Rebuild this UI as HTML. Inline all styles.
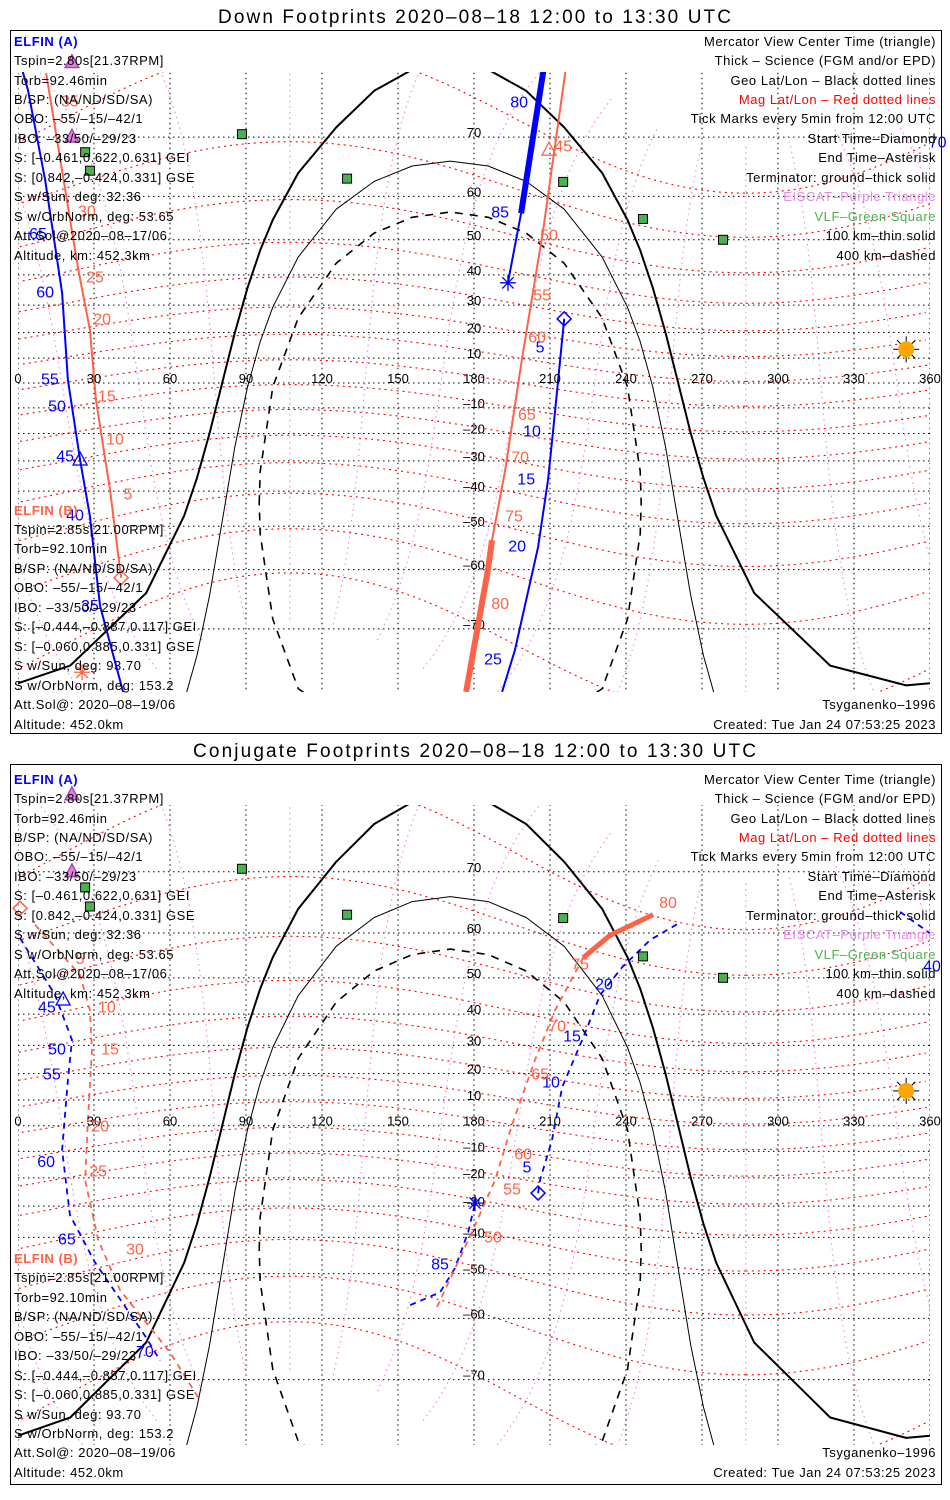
<!DOCTYPE html>
<html><head><meta charset="utf-8">
<style>
html,body{margin:0;padding:0;background:#fff;overflow:hidden;width:950px;height:1500px;}
svg{display:block;}
.t{font-family:"Liberation Sans",sans-serif;font-size:13px;letter-spacing:0.55px;fill:#000;}
.r{text-anchor:end;}
.ttl{font-family:"Liberation Sans",sans-serif;font-size:19px;fill:#000;}
</style></head>
<body>
<svg id="chart" width="950" height="1500" viewBox="0 0 950 1500" xmlns="http://www.w3.org/2000/svg">
<defs>
<clipPath id="clip1"><rect x="18" y="72" width="912" height="620"/></clipPath>
<clipPath id="clip2"><rect x="18" y="805" width="912" height="640"/></clipPath>
<clipPath id="clipAll"><rect x="0" y="0" width="950" height="1500"/></clipPath>
</defs>
<rect x="0" y="0" width="950" height="1500" fill="#fff"/>

<text class="ttl" x="218" y="23" textLength="513">Down Footprints 2020–08–18 12:00 to 13:30 UTC</text>
<rect x="10.5" y="30.5" width="931" height="703" fill="none" stroke="#000" stroke-width="1"/>
<g id="map1" clip-path="url(#clip1)"></g>
<g id="over1" clip-path="url(#clipAll)"></g>

<text class="ttl" x="193" y="757" textLength="563">Conjugate Footprints 2020–08–18 12:00 to 13:30 UTC</text>
<rect x="10.5" y="764.5" width="931" height="720" fill="none" stroke="#000" stroke-width="1"/>
<g id="map2" clip-path="url(#clip2)"></g>
<g id="over2" clip-path="url(#clipAll)"></g>

<!-- Top panel text -->
<g>
<text class="t" x="14" y="46" style="fill:#0000ff;font-weight:bold">ELFIN (A)</text>
<text class="t" x="14" y="65">Tspin=2.80s[21.37RPM]</text>
<text class="t" x="14" y="85">Torb=92.46min</text>
<text class="t" x="14" y="104">B/SP: (NA/ND/SD/SA)</text>
<text class="t" x="14" y="123">OBO: –55/–15/–42/1</text>
<text class="t" x="14" y="143">IBO: –33/50/–29/23</text>
<text class="t" x="14" y="162">S: [–0.461,0.622,0.631] GEI</text>
<text class="t" x="14" y="182">S: [0.842,–0.424,0.331] GSE</text>
<text class="t" x="14" y="201">S w/Sun, deg: 32.36</text>
<text class="t" x="14" y="221">S w/OrbNorm, deg: 53.65</text>
<text class="t" x="14" y="240">Att.Sol@2020–08–17/06</text>
<text class="t" x="14" y="260">Altitude, km: 452.3km</text>
</g>
<g>
<text class="t" x="14" y="515" style="fill:#ff6347;font-weight:bold">ELFIN (B)</text>
<text class="t" x="14" y="534">Tspin=2.85s[21.00RPM]</text>
<text class="t" x="14" y="553">Torb=92.10min</text>
<text class="t" x="14" y="573">B/SP: (NA/ND/SD/SA)</text>
<text class="t" x="14" y="592">OBO: –55/–15/–42/1</text>
<text class="t" x="14" y="612">IBO: –33/50/–29/23</text>
<text class="t" x="14" y="631">S: [–0.444,–0.887,0.117] GEI</text>
<text class="t" x="14" y="651">S: [–0.060,0.885,0.331] GSE</text>
<text class="t" x="14" y="670">S w/Sun, deg: 93.70</text>
<text class="t" x="14" y="690">S w/OrbNorm, deg: 153.2</text>
<text class="t" x="14" y="709">Att.Sol@: 2020–08–19/06</text>
<text class="t" x="14" y="729">Altitude: 452.0km</text>
</g>
<g>
<text class="t r" x="936" y="46">Mercator View Center Time (triangle)</text>
<text class="t r" x="936" y="65">Thick – Science (FGM and/or EPD)</text>
<text class="t r" x="936" y="85">Geo Lat/Lon – Black dotted lines</text>
<text class="t r" x="936" y="104" style="fill:#ff0000">Mag Lat/Lon – Red dotted lines</text>
<text class="t r" x="936" y="123">Tick Marks every 5min from 12:00 UTC</text>
<text class="t r" x="936" y="143">Start Time–Diamond</text>
<text class="t r" x="936" y="162">End Time–Asterisk</text>
<text class="t r" x="936" y="182">Terminator: ground–thick solid</text>
<text class="t r" x="936" y="201" style="fill:#e58ae5">EISCAT–Purple Triangle</text>
<text class="t r" x="936" y="221" style="fill:#4caf50">VLF–Green Square</text>
<text class="t r" x="936" y="240">100 km–thin solid</text>
<text class="t r" x="936" y="260">400 km–dashed</text>
<text class="t r" x="936" y="709">Tsyganenko–1996</text>
<text class="t r" x="936" y="729">Created: Tue Jan 24 07:53:25 2023</text>
</g>

<!-- Bottom panel text -->
<g>
<text class="t" x="14" y="784" style="fill:#0000ff;font-weight:bold">ELFIN (A)</text>
<text class="t" x="14" y="803">Tspin=2.80s[21.37RPM]</text>
<text class="t" x="14" y="823">Torb=92.46min</text>
<text class="t" x="14" y="842">B/SP: (NA/ND/SD/SA)</text>
<text class="t" x="14" y="861">OBO: –55/–15/–42/1</text>
<text class="t" x="14" y="881">IBO: –33/50/–29/23</text>
<text class="t" x="14" y="900">S: [–0.461,0.622,0.631] GEI</text>
<text class="t" x="14" y="920">S: [0.842,–0.424,0.331] GSE</text>
<text class="t" x="14" y="939">S w/Sun, deg: 32.36</text>
<text class="t" x="14" y="959">S w/OrbNorm, deg: 53.65</text>
<text class="t" x="14" y="978">Att.Sol@2020–08–17/06</text>
<text class="t" x="14" y="998">Altitude, km: 452.3km</text>
</g>
<g>
<text class="t" x="14" y="1263" style="fill:#ff6347;font-weight:bold">ELFIN (B)</text>
<text class="t" x="14" y="1282">Tspin=2.85s[21.00RPM]</text>
<text class="t" x="14" y="1302">Torb=92.10min</text>
<text class="t" x="14" y="1321">B/SP: (NA/ND/SD/SA)</text>
<text class="t" x="14" y="1341">OBO: –55/–15/–42/1</text>
<text class="t" x="14" y="1360">IBO: –33/50/–29/23</text>
<text class="t" x="14" y="1380">S: [–0.444,–0.887,0.117] GEI</text>
<text class="t" x="14" y="1399">S: [–0.060,0.885,0.331] GSE</text>
<text class="t" x="14" y="1419">S w/Sun, deg: 93.70</text>
<text class="t" x="14" y="1438">S w/OrbNorm, deg: 153.2</text>
<text class="t" x="14" y="1457">Att.Sol@: 2020–08–19/06</text>
<text class="t" x="14" y="1477">Altitude: 452.0km</text>
</g>
<g>
<text class="t r" x="936" y="784">Mercator View Center Time (triangle)</text>
<text class="t r" x="936" y="803">Thick – Science (FGM and/or EPD)</text>
<text class="t r" x="936" y="823">Geo Lat/Lon – Black dotted lines</text>
<text class="t r" x="936" y="842" style="fill:#ff0000">Mag Lat/Lon – Red dotted lines</text>
<text class="t r" x="936" y="861">Tick Marks every 5min from 12:00 UTC</text>
<text class="t r" x="936" y="881">Start Time–Diamond</text>
<text class="t r" x="936" y="900">End Time–Asterisk</text>
<text class="t r" x="936" y="920">Terminator: ground–thick solid</text>
<text class="t r" x="936" y="939" style="fill:#e58ae5">EISCAT–Purple Triangle</text>
<text class="t r" x="936" y="959" style="fill:#4caf50">VLF–Green Square</text>
<text class="t r" x="936" y="978">100 km–thin solid</text>
<text class="t r" x="936" y="998">400 km–dashed</text>
<text class="t r" x="936" y="1457">Tsyganenko–1996</text>
<text class="t r" x="936" y="1477">Created: Tue Jan 24 07:53:25 2023</text>
</g>
</svg>

<script>
// ---------- axis ticks ----------
const lonTicks = [0,30,60,90,120,150,180,210,240,270,300,330,360];
const latTicks = [-70,-60,-50,-40,-30,-20,-10,0,10,20,30,40,50,60,70];
const latLabelLon = 180;

// ---------- terminators (lon / lat) ----------
const termLon = [0,20.6,50.6,65.6,70.6,75.6,80.6,85.6,90.6,95.6,100.6,110.6,125.6,140.6,155.6,170.6,185.6,200.6,215.6,230.6,240.6,245.6,250.6,255.6,260.6,265.6,270.6,275.6,290.6,320.6,350.6,360];
const groundLat = [-76.3,-74.5,-64.4,-47.2,-35.9,-20.0,0,20.0,35.9,47.2,54.9,64.4,71.3,75.5,77.5,78.0,77.5,75.5,71.3,64.4,54.9,47.2,35.9,20.0,0,-20.0,-35.9,-47.2,-64.4,-74.5,-76.5,-76.3];
const km100Lat = [-86.6,-86.1,-83.3,-77.9,-73.4,-64.9,-48.7,-24.9,-1.6,16.5,29.3,45.3,57.3,62.9,65.6,66.4,65.6,62.9,57.3,45.3,29.3,16.5,-1.6,-24.9,-48.7,-64.9,-73.4,-77.9,-83.3,-86.1,-86.6,-86.6];
const km400Lon = [95.2,95.6,100.6,110.6,125.6,140.6,155.6,170.6,185.6,200.6,215.6,230.6,240.6,245.6,246.0,245.6,240.6,230.6,215.6,200.6,185.6,170.6,155.6,140.6,125.6,110.6,100.6,95.6,95.2];
const km400Lat = [-43.6,-33.6,-1.6,25.4,43.5,51.7,55.5,56.7,55.5,51.7,43.5,25.4,-1.6,-33.6,-43.6,-52.0,-68.6,-76.8,-80.9,-82.7,-83.5,-83.7,-83.5,-82.7,-80.9,-76.8,-68.6,-52.0,-43.6];

// ---------- sites ----------
const vlfLon = [88.4,26.5,28.4,129.9,215.2,246.7,278.3];
const vlfLat = [70.4,67.8,64.8,63.4,62.8,55.1,50.0];
const eiscatLon = [21.3,21.3];
const eiscatLat = [78.1,70.0];
const sunLon = [350.6];
const sunLat = [13.5];
const magPoleLat = 80.65;
const magPoleLon = 287.3;

// ---------- Down footprints: tracks ----------
const downA1Lon = [215.6,214.4,211.2,209.2,205.3,196.2,191.1];
const downA1Lat = [25.1,13.2,-19.4,-36.5,-55.1,-72.7,-77.1];
const downA2Lon = [41.5,32.4,28.4,24.5,19.7,17.4,10.7,3.9,-1.6];
const downA2Lat = [-77.1,-66.6,-47.3,-29.7,1.2,34.2,63.2,75.6,79.8];
const downA3Lon = [208.5,207.3,198.6,193.4];
const downA3Lat = [80.5,77.3,56.4,37.5];
const downA3ThickLon = [208.5,207.3,198.6];
const downA3ThickLat = [80.5,77.3,56.4];
const downB1Lon = [11.1,23.7,28.4,30.8,36.3,40.7];
const downB1Lat = [77.2,42.1,21.0,-6.9,-39.6,-61.6];
const downB2Lon = [218,216,207.3,199,192.3,187.1,185.5,176.9];
const downB2Lat = [79.8,77.2,52.5,10,-33.2,-53.5,-60.1,-77.1];
const downB2ThickLon = [187.1,185.5,176.9];
const downB2ThickLat = [-53.5,-60.1,-77.1];
const downALabText = ["5","10","15","20","25","35","40","45","50","55","60","65","70","80","85"];
const downALabLon = [206.1,202.9,200.6,197.0,187.5,28.4,22.5,18.6,15.4,12.6,10.7,7.9,363,197.8,190.3];
const downALabLat = [14.0,-19.4,-36.5,-55.1,-73.9,-66.7,-47.3,-28.6,-9.7,1.2,34.2,51.3,69.2,74.2,56.5];
const downBLabText = ["5","10","15","20","25","30","35","45","50","55","60","65","70","75","80"];
const downBLabLon = [43.4,38.3,35.1,33.2,30.4,27.2,20.5,215.2,209.6,206.9,204.9,200.9,198.2,195.8,190.3];
const downBLabLat = [-41.2,-22.4,-5.7,24.7,39.1,56.7,74.3,68.6,51.0,33.2,17.9,-13.1,-29.0,-47.6,-66.3];
const downAStart = [215.6,25.1], downACenter = [24.5,-29.7], downAEnd = [193.4,37.5];
const downBStart = [40.7,-61.6], downBCenter = [209.6,68.1], downBEnd = [25.3,-75.2];

// ---------- Conjugate footprints: tracks ----------
const conjA1Lon = [205.3,206.1,210.8,214.8,222.7,229.8,238.5,249.5,261.3];
const conjA1Lat = [-25.5,-20.7,-5.6,15.0,31.8,45.5,52.6,58.6,62.0];
const conjA4Lon = [348.2,361];
const conjA4Lat = [63.9,59.6];
const conjA2Lon = [0.8,14.6,21.3,19.7,17.4,20.5,30.4,50.1,56.1];
const conjA2Lat = [59.0,45.5,31.8,17.6,-9.5,-33.0,-47.1,-63.2,-67.3];
const conjA3Lon = [154.8,166.6,172.5,177.7,180.4];
const conjA3Lat = [-57.3,-54.5,-48.6,-38.4,-29.0];
const conjB1Lon = [6.7,24.5,28.4,29.2,27.6,26.5,31.6,40.3,60.0,71.8];
const conjB1Lat = [61.6,50.7,41.2,28.4,2.2,-20.8,-40.7,-54.0,-66.0,-72.6];
const conjB2Lon = [165.4,177.7,188.3,195.0,204.1,212.0,223.1,233.8,250.7];
const conjB2Lat = [-57.7,-40.9,-20.9,0.3,24.9,41.2,54.8,59.6,63.4];
const conjB2ThickLon = [223.1,233.8,250.7];
const conjB2ThickLat = [54.8,59.6,63.4];
const conjALabText = ["5","10","15","20","40","45","50","55","60","65","70","85"];
const conjALabLon = [200.9,210.4,218.7,231.3,360.8,11.4,15.4,13.4,11.1,19.3,50.1,166.6];
const conjALabLat = [-16.3,16.5,32.8,48.2,52.6,41.8,28.4,19.4,-14.3,-40.8,-66.0,-47.8];
const conjBLabText = ["5","10","15","20","25","30","50","55","60","65","70","75","80"];
const conjBLabLon = [24.5,35.1,36.3,32.4,31.6,46.2,187.5,195.0,199.4,206.1,212.8,221.9,256.6];
const conjBLabLat = [54.4,41.8,28.4,-0.5,-17.8,-43.7,-40.2,-24.4,-11.4,19.4,36.0,53.1,65.3];
const conjAStart = [205.3,-25.5], conjACenter = [17.8,44.1], conjAEnd = [180.4,-29.0];
const conjBStart = [0.8,64.5];

// ---------- rendering ----------
const NS = "http://www.w3.org/2000/svg";
const BLUE = "#0000ff", ORANGE = "#ff6347";
const panels = [
  {map: document.getElementById('map1'), over: document.getElementById('over1'), y0: 383, R: 141.7},
  {map: document.getElementById('map2'), over: document.getElementById('over2'), y0: 1125.7, R: 146.3}
];
function xOf(lon){ return 18 + Math.max(-5, Math.min(365, lon)) * 2.5333; }
function yOf(p, lat){
  const l = Math.max(-79, Math.min(80, lat));
  return p.y0 - p.R * Math.log(Math.tan(Math.PI/4 + l*Math.PI/360));
}
function mk(tag, attrs, parent){
  const e = document.createElementNS(NS, tag);
  for (const k in attrs) e.setAttribute(k, attrs[k]);
  parent.appendChild(e);
  return e;
}
function ptsStr(p, lons, lats){
  return lons.map((lo,i)=> xOf(lo).toFixed(1)+','+yOf(p,lats[i]).toFixed(1)).join(' ');
}
function line(p, parent, lons, lats, color, w, dash, name){
  const e = mk('polyline', {points: ptsStr(p,lons,lats), fill:'none', stroke:color, 'stroke-width':w, 'stroke-dasharray':dash||'none', 'stroke-linejoin':'round'}, parent);
  
  
  return e;
}
function mag2geo(mlat, mlon){
  const a = mlat*Math.PI/180, b = mlon*Math.PI/180;
  const x = Math.cos(a)*Math.cos(b), y = Math.cos(a)*Math.sin(b), z = Math.sin(a);
  const t = (90 - magPoleLat)*Math.PI/180, ph = magPoleLon*Math.PI/180;
  const x1 = x*Math.cos(t) + z*Math.sin(t), z1 = -x*Math.sin(t) + z*Math.cos(t), y1 = y;
  const x2 = x1*Math.cos(ph) - y1*Math.sin(ph), y2 = x1*Math.sin(ph) + y1*Math.cos(ph);
  let lon = Math.atan2(y2, x2)*180/Math.PI; if (lon < 0) lon += 360;
  return [lon, Math.asin(z1)*180/Math.PI];
}
function magCurve(p, parent, pts, color, dash, name){
  let segL = [], segT = [];
  const flush = ()=>{ if (segL.length > 1) line(p, parent, segL, segT, color, 1.1, dash, name); segL = []; segT = []; };
  for (let i=0;i<pts.length;i++){
    if (segL.length && Math.abs(pts[i][0] - segL[segL.length-1]) > 180) flush();
    segL.push(pts[i][0]); segT.push(pts[i][1]);
  }
  flush();
}
function label(p, parent, txt, lon, lat, color, size, name){
  const e = mk('text', {x: xOf(lon).toFixed(1), y: yOf(p,lat).toFixed(1), 'text-anchor':'middle', 'dominant-baseline':'central', fill: color, 'font-family':'"Liberation Sans", sans-serif', 'font-size': size}, parent);
  e.textContent = txt;
  
  
  return e;
}
function diamond(p, parent, ll, color, name){
  const x = xOf(ll[0]), y = yOf(p, ll[1]);
  const e = mk('polygon', {points: `${x},${y-7} ${x+7},${y} ${x},${y+7} ${x-7},${y}`, fill:'none', stroke:color, 'stroke-width':1.5}, parent);
  
  
}
function triangle(p, parent, ll, color, fill, name){
  const x = xOf(ll[0]), y = yOf(p, ll[1]);
  const e = mk('polygon', {points: `${x},${y-8} ${x+7},${y+5} ${x-7},${y+5}`, fill:fill, stroke:color, 'stroke-width':1.3}, parent);
  
  
}
function asterisk(p, parent, ll, color, name){
  const x = xOf(ll[0]), y = yOf(p, ll[1]);
  const g = mk('g', {stroke:color, 'stroke-width':1.3}, parent);
  
  
  for (let k=0;k<4;k++){
    const a = k*Math.PI/4;
    mk('line', {x1: x-8*Math.cos(a), y1: y-8*Math.sin(a), x2: x+8*Math.cos(a), y2: y+8*Math.sin(a)}, g);
  }
}

panels.forEach((p, pi)=>{
  const g = p.map;
  const yTop = yOf(p, 80), yBot = yOf(p, -79);
  latTicks.forEach(lat=>{
    const yy = yOf(p,lat);
    const e = mk('line', {x1:18, x2:930, y1:yy, y2:yy, stroke:'#000', 'stroke-width':1, 'stroke-dasharray':'1.5 3.5'}, g);
    
    
  });
  lonTicks.forEach(lon=>{
    const e = mk('line', {x1:xOf(lon), x2:xOf(lon), y1:yTop, y2:yBot, stroke:'#000', 'stroke-width':1, 'stroke-dasharray':'1.5 3.5'}, g);
    
    
  });
  for (let ml=0; ml<360; ml+=30){
    const pts = []; for (let a=-78; a<=78; a+=2) pts.push(mag2geo(a, ml));
    magCurve(p, g, pts, '#ee82ee', '1.5 4', 'mag-lon-line');
  }
  for (let a=-70; a<=70; a+=10){
    const pts = []; for (let ml=0; ml<=360; ml+=2) pts.push(mag2geo(a, ml));
    magCurve(p, g, pts, '#ff0000', '2 4', 'mag-lat-line');
  }
  latTicks.forEach(lat=>{
    if (lat === 0) return;
    const e = mk('text', {x:xOf(latLabelLon), y:yOf(p,lat), 'text-anchor':'middle', 'font-family':'"Liberation Sans", sans-serif', 'font-size':13, fill:'#000'}, g);
    e.textContent = lat < 0 ? '–' + Math.abs(lat) : String(lat);
    
    
  });
  lonTicks.forEach(lon=>{
    const e = mk('text', {x:xOf(lon), y:yOf(p,0), 'text-anchor':'middle', 'font-family':'"Liberation Sans", sans-serif', 'font-size':13, fill:'#000'}, p.over);
    e.textContent = String(lon);
    
    
  });
  line(p, g, termLon, groundLat, '#000', 2, null, 'terminator-ground');
  line(p, g, termLon, km100Lat, '#000', 1, null, 'terminator-100km');
  line(p, g, km400Lon, km400Lat, '#000', 1.6, '8 7', 'terminator-400km');
  vlfLon.forEach((lo,i)=>{
    const x = xOf(lo), y = yOf(p, vlfLat[i]);
    const e = mk('rect', {x:x-4.5, y:y-4.5, width:9, height:9, fill:'#4caf50', stroke:'#000', 'stroke-width':1}, p.over);
    
    
  });
  eiscatLon.forEach((lo,i)=> triangle(p, p.over, [lo, eiscatLat[i]], '#a040a0', '#e080e0', 'eiscat-site'));
  const sx = xOf(sunLon[0]), sy = yOf(p, sunLat[0]);
  const sg = mk('g', {}, p.over);
  
  
  for (let k=0;k<8;k++){ const a=k*Math.PI/4; mk('line', {x1:sx, y1:sy, x2:sx+13*Math.cos(a), y2:sy+13*Math.sin(a), stroke:'#000', 'stroke-width':1}, sg); }
  mk('circle', {cx:sx, cy:sy, r:8, fill:'#ffa500'}, sg);
});

(function(){
  const p = panels[0], g = p.map, o = p.over;
  line(p, g, downA1Lon, downA1Lat, BLUE, 2, null, 'elfin-a-track');
  line(p, g, downA2Lon, downA2Lat, BLUE, 2, null, 'elfin-a-track');
  line(p, g, downA3Lon, downA3Lat, BLUE, 2, null, 'elfin-a-track');
  line(p, g, downA3ThickLon, downA3ThickLat, BLUE, 6, null, 'elfin-a-science');
  line(p, g, downB1Lon, downB1Lat, ORANGE, 2, null, 'elfin-b-track');
  line(p, g, downB2Lon, downB2Lat, ORANGE, 2, null, 'elfin-b-track');
  line(p, g, downB2ThickLon, downB2ThickLat, ORANGE, 6, null, 'elfin-b-science');
  downALabText.forEach((t,i)=> label(p, o, t, downALabLon[i], downALabLat[i], BLUE, 16, 'elfin-a-tick-label'));
  downBLabText.forEach((t,i)=> label(p, o, t, downBLabLon[i], downBLabLat[i], ORANGE, 16, 'elfin-b-tick-label'));
  diamond(p, o, downAStart, BLUE, 'elfin-a-start');
  triangle(p, o, downACenter, BLUE, 'none', 'elfin-a-center');
  asterisk(p, o, downAEnd, BLUE, 'elfin-a-end');
  diamond(p, o, downBStart, ORANGE, 'elfin-b-start');
  triangle(p, o, downBCenter, ORANGE, 'none', 'elfin-b-center');
  asterisk(p, o, downBEnd, ORANGE, 'elfin-b-end');
})();

(function(){
  const p = panels[1], g = p.map, o = p.over;
  line(p, g, conjA1Lon, conjA1Lat, BLUE, 1.8, '6 5', 'elfin-a-track');
  line(p, g, conjA4Lon, conjA4Lat, BLUE, 1.8, '6 5', 'elfin-a-track');
  line(p, g, conjA2Lon, conjA2Lat, BLUE, 1.8, '6 5', 'elfin-a-track');
  line(p, g, conjA3Lon, conjA3Lat, BLUE, 1.8, '6 5', 'elfin-a-track');
  line(p, g, conjB1Lon, conjB1Lat, ORANGE, 1.8, '6 5', 'elfin-b-track');
  line(p, g, conjB2Lon, conjB2Lat, ORANGE, 1.8, '6 5', 'elfin-b-track');
  line(p, g, conjB2ThickLon, conjB2ThickLat, ORANGE, 5, null, 'elfin-b-science');
  conjALabText.forEach((t,i)=> label(p, o, t, conjALabLon[i], conjALabLat[i], BLUE, 16, 'elfin-a-tick-label'));
  conjBLabText.forEach((t,i)=> label(p, o, t, conjBLabLon[i], conjBLabLat[i], ORANGE, 16, 'elfin-b-tick-label'));
  diamond(p, o, conjAStart, BLUE, 'elfin-a-start');
  triangle(p, o, conjACenter, BLUE, 'none', 'elfin-a-center');
  asterisk(p, o, conjAEnd, BLUE, 'elfin-a-end');
  diamond(p, o, conjBStart, ORANGE, 'elfin-b-start');
})();
</script>
</body></html>
